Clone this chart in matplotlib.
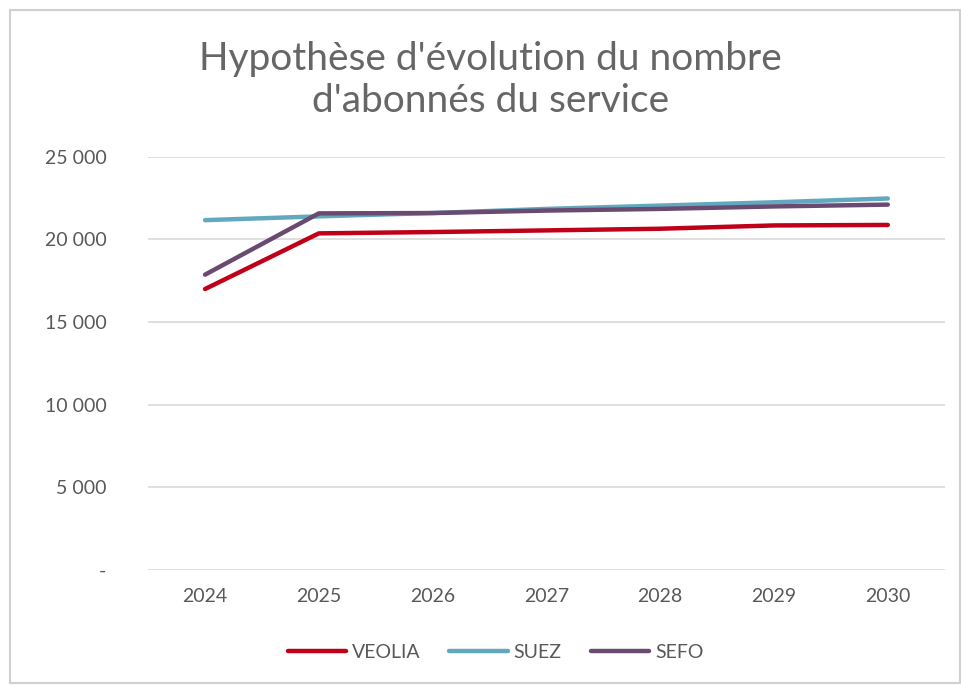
import matplotlib.pyplot as plt
from matplotlib.patches import Rectangle
from matplotlib.ticker import FuncFormatter

# --- données ---
annees = [2024, 2025, 2026, 2027, 2028, 2029, 2030]
veolia = [17000, 20370, 20450, 20550, 20650, 20850, 20880]
suez = [21170, 21400, 21600, 21850, 22050, 22250, 22480]
sefo = [17870, 21580, 21600, 21750, 21850, 22000, 22110]
yticks = [0, 5000, 10000, 15000, 20000, 25000]

plt.rcParams['font.family'] = ['Lato', 'DejaVu Sans']
gris = '#595959'

fig = plt.figure(figsize=(9.62, 6.85), dpi=100)
ax = fig.add_axes([0.154, 0.168, 0.828, 0.603])

# cadre gris autour du graphique
fig.patches.append(Rectangle((10 / 962, 2 / 685), 950 / 962, 673 / 685,
                             transform=fig.transFigure, fill=False,
                             edgecolor='#d0d0d0', linewidth=1.5))

ax.plot(annees, veolia, color='#c00018', linewidth=3.2, label='VEOLIA', solid_capstyle='round')
ax.plot(annees, suez, color='#62a9bf', linewidth=3.2, label='SUEZ', solid_capstyle='round')
ax.plot(annees, sefo, color='#6b4a72', linewidth=3.2, label='SEFO', solid_capstyle='round')

ax.set_xlim(2023.5, 2030.5)
ax.set_ylim(0, 25000)
ax.set_yticks(yticks)
ax.yaxis.set_major_formatter(FuncFormatter(
    lambda v, p: '-' if v == 0 else f"{int(v):,}".replace(',', ' ')))
ax.set_xticks(annees)
ax.grid(axis='y', color='#d9d9d9', linewidth=1.2)
ax.set_axisbelow(True)
for s in ax.spines.values():
    s.set_visible(False)
ax.tick_params(axis='both', length=0, colors=gris, labelsize=14)
ax.tick_params(axis='y', pad=30)
ax.tick_params(axis='x', pad=13)

fig.text(0.51, 0.883, "Hypothèse d'évolution du nombre\nd'abonnés du service",
         ha='center', va='center', fontsize=28, color='#666666', linespacing=1.2)

fig.legend(loc='center', bbox_to_anchor=(0.515, 0.048), ncol=3, frameon=False,
           fontsize=14, labelcolor=gris, handlelength=3.0, handletextpad=0.3,
           columnspacing=1.5)

fig.savefig('out.png', dpi=100, facecolor='white')
